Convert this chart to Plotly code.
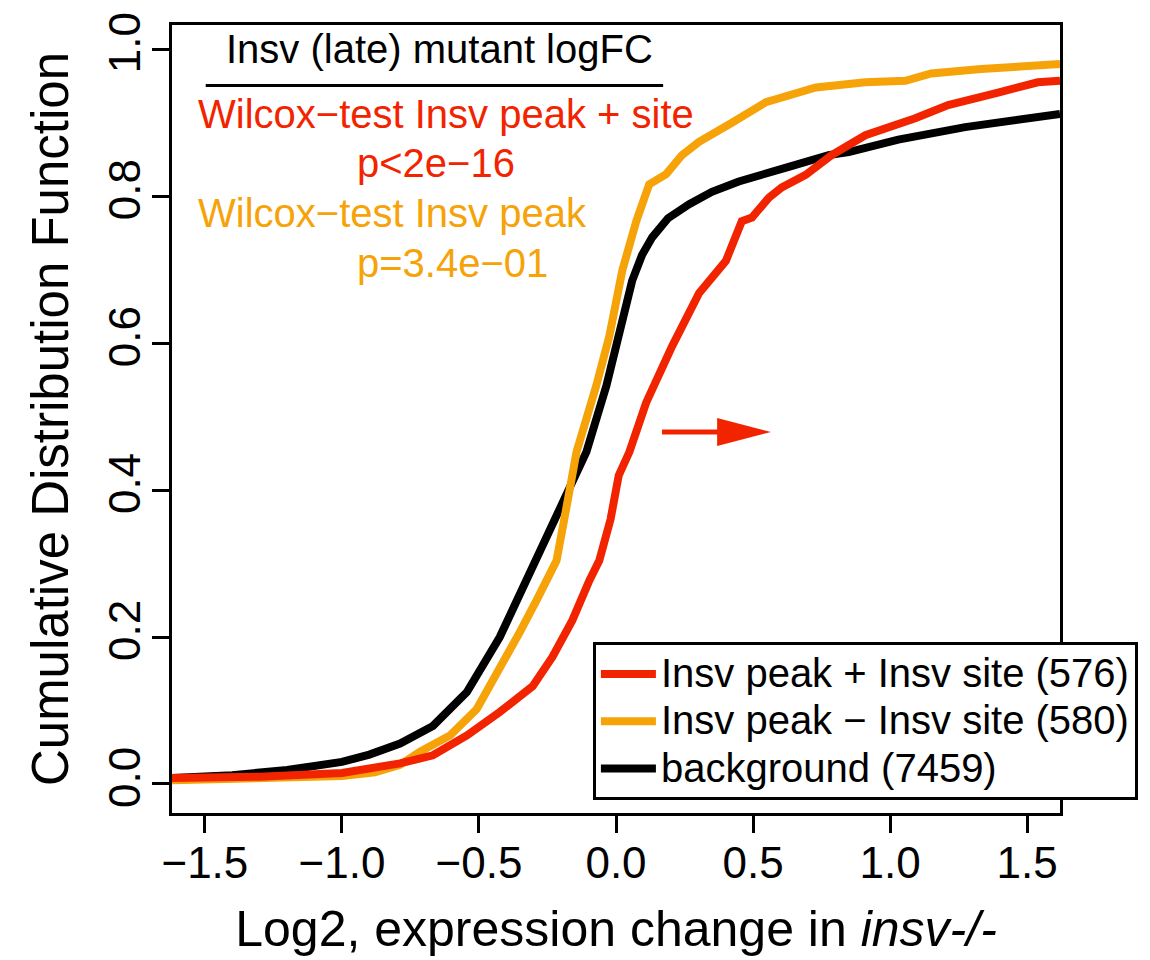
import plotly.graph_objects as go

# ---- data ----
black_x = [-1.62, -1.4, -1.2, -1.0, -0.9, -0.788, -0.668, -0.544, -0.424, -0.326, -0.29, -0.206, -0.108,
           -0.035, 0.023, 0.059, 0.095, 0.132, 0.19, 0.267, 0.35, 0.448, 0.63, 0.776, 0.849, 1.03, 1.274,
           1.539, 1.62]
black_y = [0.008, 0.012, 0.019, 0.03, 0.04, 0.055, 0.079, 0.125, 0.2, 0.277, 0.304, 0.371, 0.452,
           0.542, 0.631, 0.685, 0.72, 0.744, 0.77, 0.789, 0.806, 0.82, 0.84, 0.856, 0.86, 0.877, 0.894,
           0.908, 0.912]

orange_x = [-1.62, -1.3, -1.0, -0.88, -0.788, -0.715, -0.606, -0.508, -0.424, -0.352, -0.29, -0.217, -0.18,
            -0.144, -0.072, -0.024, 0.023, 0.074, 0.121, 0.183, 0.241, 0.303, 0.423, 0.547, 0.729, 0.91,
            1.056, 1.15, 1.332, 1.62]
orange_y = [0.005, 0.007, 0.011, 0.016, 0.026, 0.044, 0.066, 0.102, 0.156, 0.206, 0.25, 0.304, 0.378,
            0.452, 0.542, 0.61, 0.699, 0.766, 0.816, 0.83, 0.856, 0.874, 0.9, 0.928, 0.948, 0.955,
            0.957, 0.967, 0.973, 0.98]

red_x = [-1.62, -1.3, -1.0, -0.9, -0.788, -0.668, -0.544, -0.424, -0.304, -0.232, -0.159, -0.097, -0.061,
         -0.02, 0.01, 0.049, 0.11, 0.205, 0.303, 0.401, 0.459, 0.496, 0.558, 0.605, 0.692, 0.787, 0.91,
         1.092, 1.212, 1.394, 1.539, 1.62]
red_y = [0.008, 0.01, 0.015, 0.02, 0.028, 0.039, 0.066, 0.098, 0.133, 0.173, 0.223, 0.277, 0.304,
         0.36, 0.42, 0.452, 0.519, 0.596, 0.668, 0.712, 0.766, 0.771, 0.798, 0.812, 0.829, 0.856, 0.883,
         0.906, 0.924, 0.941, 0.955, 0.957]

series_names = ["Insv peak + Insv site (576)", "Insv peak \u2212 Insv site (580)", "background (7459)"]
x_ticks = [-1.5, -1.0, -0.5, 0.0, 0.5, 1.0, 1.5]
y_ticks = [0.0, 0.2, 0.4, 0.6, 0.8, 1.0]

RED = "#F22400"
ORANGE = "#F5A308"
FONT = "Liberation Sans, Arial, Helvetica, sans-serif"
LEG_TXT = 40


def leg(name):
    return f'<span style="font-size:{LEG_TXT}px">{name}</span>'


fig = go.Figure()
fig.add_trace(go.Scatter(x=black_x, y=black_y, mode="lines", name=leg(series_names[2]),
                         line=dict(color="black", width=8), legendrank=3))
fig.add_trace(go.Scatter(x=orange_x, y=orange_y, mode="lines", name=leg(series_names[1]),
                         line=dict(color=ORANGE, width=8), legendrank=2))
fig.add_trace(go.Scatter(x=red_x, y=red_y, mode="lines", name=leg(series_names[0]),
                         line=dict(color=RED, width=8), legendrank=1))

# arrow (data coords)
arrow_x0, arrow_x1, arrow_y = 0.168, 0.565, 0.479
head_len, head_half = 0.196, 0.019
fig.add_shape(type="line", xref="x", yref="y", x0=arrow_x0, x1=arrow_x1 - head_len + 0.01,
              y0=arrow_y, y1=arrow_y, line=dict(color=RED, width=5))
fig.add_shape(type="path", xref="x", yref="y",
              path=f"M {arrow_x1},{arrow_y} L {arrow_x1-head_len},{arrow_y+head_half} "
                   f"L {arrow_x1-head_len},{arrow_y-head_half} Z",
              fillcolor=RED, line=dict(color=RED, width=0))

# title underline
fig.add_shape(type="line", xref="x", yref="y", x0=-1.497, x1=0.172, y0=0.9506, y1=0.9506,
              line=dict(color="black", width=3))

texts = [
    ("Insv (late) mutant logFC", -1.432, 0.9997, "black"),
    ("Wilcox\u2212test Insv peak + site", -1.532, 0.9122, RED),
    ("p<2e\u221216", -0.952, 0.8455, RED),
    ("Wilcox\u2212test Insv peak", -1.532, 0.7768, ORANGE),
    ("p=3.4e\u221201", -0.952, 0.7095, ORANGE),
]
for t, x, y, c in texts:
    fig.add_annotation(text=t, x=x, y=y, xref="x", yref="y", xanchor="left", yanchor="middle",
                       showarrow=False, font=dict(family=FONT, size=40, color=c))

fig.update_layout(
    width=1150, height=960,
    margin=dict(l=172, r=88, t=19, b=145),
    plot_bgcolor="white", paper_bgcolor="white",
    font=dict(family=FONT, color="black"),
    legend=dict(x=0.474, y=0.2165, xanchor="left", yanchor="top",
                bordercolor="black", borderwidth=3, bgcolor="white", itemwidth=55,
                font=dict(family=FONT, size=34, color="black")),
)
fig.update_xaxes(range=[-1.62, 1.62], tickvals=x_ticks, tickformat=".1f",
                 ticks="outside", ticklen=17, tickwidth=3, tickcolor="black",
                 showline=True, mirror=True, linewidth=3, linecolor="black",
                 showgrid=False, zeroline=False, ticklabelstandoff=-8,
                 tickfont=dict(family=FONT, size=44),
                 title=dict(text="Log2, expression change in <i>insv-/-</i>",
                            font=dict(family=FONT, size=50), standoff=26))
fig.update_yaxes(range=[-0.0395, 1.033], tickvals=y_ticks, tickformat=".1f",
                 ticks="outside", ticklen=17, tickwidth=3, tickcolor="black",
                 showline=True, mirror=True, linewidth=3, linecolor="black",
                 showgrid=False, zeroline=False, tickangle=-90, ticklabelstandoff=-6,
                 tickfont=dict(family=FONT, size=44),
                 title=dict(text="Cumulative Distribution Function",
                            font=dict(family=FONT, size=51), standoff=16))

fig.write_html("out.html")
